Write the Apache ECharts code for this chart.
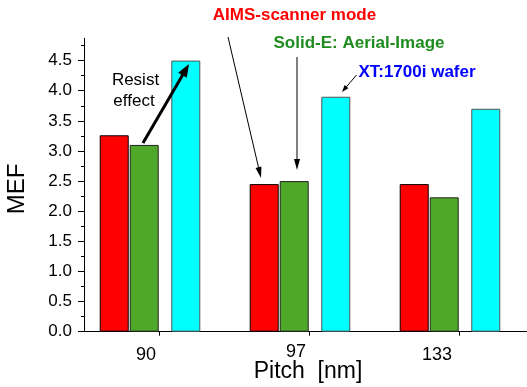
<!DOCTYPE html>
<html>
<head>
<meta charset="utf-8">
<script src="https://cdn.jsdelivr.net/npm/echarts@6/dist/echarts.min.js"></script>
<style>html,body{margin:0;padding:0;background:#fff}#c{width:527px;height:387px}</style>
</head>
<body>
<div id="c"></div>
<script>
const categories = ['90', '97', '133'];
const aimsScanner = [3.26, 2.45, 2.45];
const solidE = [3.10, 2.50, 2.23];
const xtWafer = [4.50, 3.90, 3.70];
const yMajorTicks = [0, 0.5, 1.0, 1.5, 2.0, 2.5, 3.0, 3.5, 4.0, 4.5];
const yMinorTicks = [0.25, 0.75, 1.25, 1.75, 2.25, 2.75, 3.25, 3.75, 4.25, 4.75];

const FF = '"Liberation Sans", Arial, sans-serif';

function arrow(x1, y1, x2, y2, lw, hl, hw) {
  const dx = x2 - x1, dy = y2 - y1, L = Math.hypot(dx, dy);
  const ux = dx / L, uy = dy / L;
  const bx = x2 - ux * hl, by = y2 - uy * hl;
  const px = -uy, py = ux;
  return [
    { type: 'line', silent: true, z: 100, shape: { x1: x1, y1: y1, x2: bx + ux * 1.5, y2: by + uy * 1.5 },
      style: { stroke: '#000', lineWidth: lw } },
    { type: 'polygon', silent: true, z: 100,
      shape: { points: [[x2, y2], [bx + px * hw / 2, by + py * hw / 2], [bx - px * hw / 2, by - py * hw / 2]] },
      style: { fill: '#000' } }
  ];
}
function txt(x, y, t, font, color, rot) {
  return { type: 'text', x: x, y: y, rotation: rot || 0, silent: true, z: 100,
    style: { text: t, font: font, fill: color, align: 'center', verticalAlign: 'middle' } };
}

const chart = echarts.init(document.getElementById('c'), null, { renderer: 'canvas' });
const common = { type: 'bar', barGap: '3.45%', animation: false };
chart.setOption({
  animation: false,
  backgroundColor: '#fff',
  grid: { left: 84, width: 450, top: 38.3, bottom: 55.3, containLabel: false, outerBoundsMode: 'none' },
  xAxis: {
    type: 'category', data: categories, boundaryGap: true,
    axisLine: { show: true, lineStyle: { color: '#000', width: 1 } },
    axisTick: { show: true, alignWithLabel: true, length: 4, lineStyle: { color: '#000' } },
    axisLabel: {
      margin: 11, color: '#000', fontSize: 18, fontFamily: FF,
      formatter: function (v, i) { return '{l' + i + '|' + v + '}'; },
      rich: {
        l0: { fontSize: 18, fontFamily: FF, color: '#000', padding: [3, 26, 0, 0] },
        l1: { fontSize: 18, fontFamily: FF, color: '#000', padding: [0, 26, 0, 0] },
        l2: { fontSize: 18, fontFamily: FF, color: '#000', padding: [3, 44, 0, 0] }
      }
    },
    splitLine: { show: false }
  },
  yAxis: [
    {
      type: 'value', min: 0, max: 4.87, interval: 0.5, position: 'left',
      axisLine: { show: true, lineStyle: { color: '#000', width: 1 } },
      axisTick: { show: true, length: 6, customValues: yMajorTicks, lineStyle: { color: '#000' } },
      axisLabel: { customValues: yMajorTicks, formatter: function (v) { return v.toFixed(1); },
        fontSize: 17, color: '#000', margin: 12, fontFamily: FF },
      splitLine: { show: false }
    },
    {
      type: 'value', min: 0, max: 4.87, interval: 0.5, position: 'left',
      axisLine: { show: false },
      axisTick: { show: true, length: 3, customValues: yMinorTicks, lineStyle: { color: '#000' } },
      axisLabel: { show: false },
      splitLine: { show: false }
    }
  ],
  series: [
    Object.assign({}, common, { name: 'AIMS-scanner mode', data: aimsScanner, barWidth: 29,
      itemStyle: { color: '#ff0000', borderColor: '#000', borderWidth: 1 } }),
    Object.assign({}, common, { name: 'Solid-E: Aerial-Image', data: solidE, barWidth: 29,
      itemStyle: { color: '#4fa82a', borderColor: '#222', borderWidth: 1 } }),
    Object.assign({}, common, { name: 'spacer1', data: [], barWidth: 11.2 }),
    Object.assign({}, common, { name: 'XT:1700i wafer', data: xtWafer, barWidth: 29,
      itemStyle: { color: '#00ffff', borderColor: '#555', borderWidth: 1 } }),
    Object.assign({}, common, { name: 'spacer2', data: [], barWidth: 17 })
  ],
  graphic: [].concat(
    [
      txt(294.5, 15, 'AIMS-scanner mode', 'bold 17px ' + FF, '#ff0000'),
      txt(359, 43.5, 'Solid-E: Aerial-Image', 'bold 17px ' + FF, '#1e8c1e'),
      txt(417, 72.5, 'XT:1700i wafer', 'bold 17px ' + FF, '#0000ff'),
      txt(135.5, 80, 'Resist', '17px ' + FF, '#000'),
      txt(134, 101.5, 'effect', '17px ' + FF, '#000'),
      txt(17.5, 189, 'MEF', '24px ' + FF, '#000', Math.PI / 2),
      txt(308, 372, 'Pitch  [nm]', '23px ' + FF, '#000')
    ],
    arrow(228, 37, 261, 178, 1, 11, 6),
    arrow(297, 57, 297, 170, 1, 11, 6),
    arrow(356.5, 75, 342, 92, 1, 7, 5),
    arrow(143, 143, 189, 64, 3, 13, 10)
  )
});
</script>
</body>
</html>
